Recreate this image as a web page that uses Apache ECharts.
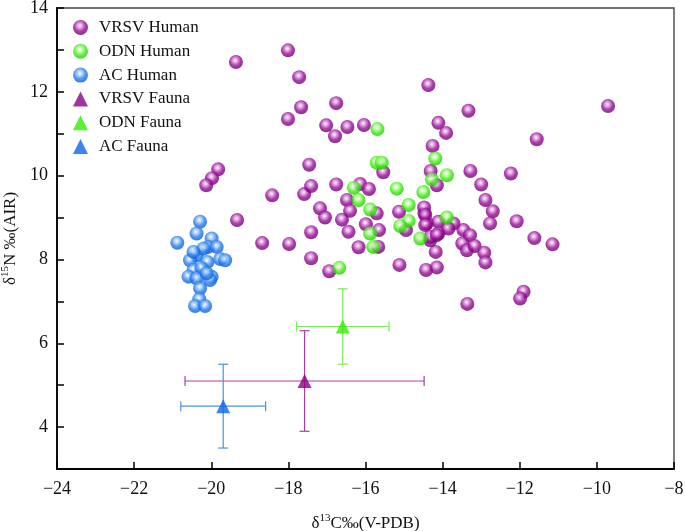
<!DOCTYPE html>
<html><head><meta charset="utf-8">
<script src="https://cdn.jsdelivr.net/npm/echarts@6/dist/echarts.min.js"></script>
<style>html,body{margin:0;padding:0;background:#fff}#c{width:685px;height:531px}</style>
</head><body><div id="c"></div>
<script>
// δ13C, δ15N values
const vrsvHuman = [
[-19.36,12.71],[-18.01,12.99],[-17.72,12.35],[-17.67,11.63],[-18.01,11.35],[-16.76,11.73],[-17.02,11.20],[-16.79,10.94],[-16.47,11.16],[-16.04,11.21],
[-14.37,12.16],[-17.46,10.26],[-15.54,10.08],[-14.11,11.26],[-13.91,11.02],[-14.26,10.71],[-14.31,10.11],[-19.82,10.15],[-19.98,9.94],[-20.13,9.77],
[-19.33,8.94],[-18.42,9.53],[-18.68,8.39],[-17.98,8.37],[-17.59,9.56],[-17.41,9.75],[-17.41,8.65],[-17.41,8.03],[-9.71,11.66],[-11.56,10.87],
[-13.33,11.55],[-13.28,10.11],[-12.23,10.05],[-13.0,9.79],[-12.89,9.42],[-12.70,9.15],[-12.77,8.86],[-12.08,8.91],[-11.62,8.51],[-11.15,8.36],
[-13.46,8.70],[-13.29,8.58],[-13.49,8.38],[-13.37,8.22],[-13.17,8.32],[-12.92,8.16],[-12.89,7.93],[-11.90,7.23],[-11.99,7.07],[-13.36,6.94],
[-14.18,8.18],[-14.43,7.75],[-14.15,7.81],[-14.47,9.10],[-14.41,8.86],[-14.11,8.90],[-14.11,8.62],[-13.72,8.86],[-14.32,8.46],[-13.85,8.74],
[-14.15,9.77],[-16.76,9.79],[-16.14,9.80],[-15.91,9.68],[-17.18,9.22],[-17.05,9.00],[-16.48,9.42],[-16.61,8.95],[-16.40,9.16],[-15.99,8.84],
[-15.71,9.10],[-15.65,8.70],[-16.44,8.66],[-16.18,8.29],[-15.67,8.30],[-16.94,7.72],[-15.12,7.87],[-15.13,9.14],[-14.95,8.70],[-14.48,9.24],
[-14.45,9.06],[-14.45,8.82],[-14.32,8.54],[-14.15,8.58]
];
const odnHuman = [
[-15.69,11.11],[-15.71,10.31],[-15.58,10.31],[-14.19,10.41],[-13.89,10.01],[-14.28,9.91],[-15.19,9.69],[-14.50,9.61],[-16.30,9.71],[-16.18,9.42],
[-15.88,9.19],[-14.88,9.30],[-14.88,8.92],[-15.10,8.80],[-13.89,9.00],[-15.88,8.62],[-15.80,8.30],[-14.58,8.50],[-16.68,7.80]
];
const acHuman = [
[-20.29,8.90],[-20.88,8.40],[-20.38,8.62],[-19.99,8.50],[-20.08,8.30],[-19.86,8.30],[-20.38,8.10],[-20.55,7.98],[-20.10,7.94],[-19.77,8.01],
[-19.64,7.98],[-20.46,7.75],[-20.25,7.79],[-20.59,7.59],[-20.38,7.55],[-19.99,7.59],[-20.03,7.51],[-20.29,7.31],[-20.31,7.05],[-20.42,6.89],
[-20.16,6.89],[-20.20,8.26],[-20.46,8.18],[-20.12,7.67]
];
// [mean δ13C, mean δ15N, sd δ13C, sd δ15N]
const vrsvFauna = [[-17.58,5.10,3.10,1.20]];
const odnFauna = [[-16.59,6.40,1.20,0.90]];
const acFauna = [[-19.69,4.50,1.10,1.00]];
const xTicks = {min:-24, max:-8, interval:2};
const yTicks = {min:3, max:14, interval:1};

function sphere(light, base, dark){
  return {type:'radial', x:0.45, y:0.38, r:0.62, colorStops:[
    {offset:0,color:'#ffffff'},{offset:0.22,color:light},{offset:0.6,color:base},{offset:1,color:dark}]};
}
function errSeries(data, color){
  return {type:'custom', silent:true, z:2, data:data,
    renderItem:function(params, api){
      const x=api.value(0), y=api.value(1), ex=api.value(2), ey=api.value(3);
      const l=api.coord([x-ex,y]), r=api.coord([x+ex,y]), t=api.coord([x,y+ey]), b=api.coord([x,y-ey]);
      const cap=5, st={stroke:color, lineWidth:1.2};
      return {type:'group', children:[
        {type:'line', shape:{x1:l[0],y1:l[1],x2:r[0],y2:r[1]}, style:st},
        {type:'line', shape:{x1:t[0],y1:t[1],x2:b[0],y2:b[1]}, style:st},
        {type:'line', shape:{x1:l[0],y1:l[1]-cap,x2:l[0],y2:l[1]+cap}, style:st},
        {type:'line', shape:{x1:r[0],y1:r[1]-cap,x2:r[0],y2:r[1]+cap}, style:st},
        {type:'line', shape:{x1:t[0]-cap,y1:t[1],x2:t[0]+cap,y2:t[1]}, style:st},
        {type:'line', shape:{x1:b[0]-cap,y1:b[1],x2:b[0]+cap,y2:b[1]}, style:st}
      ]};
    }};
}
const font = '"Liberation Serif","Times New Roman",serif';
const minus = v => String(v).replace('-', '\u2212');
const rich = {a:{fontFamily:font,fontSize:17,color:'#111',lineHeight:19,verticalAlign:'bottom'},
              s:{fontFamily:font,fontSize:11,color:'#111',lineHeight:19,verticalAlign:'top'}};
const chart = echarts.init(document.getElementById('c'));
chart.setOption({
  animation:false,
  textStyle:{fontFamily:font},
  grid:{left:57, right:11, top:8, bottom:62, show:true, borderColor:'#444', borderWidth:1.4,
    containLabel:false, outerBoundsMode:'none'},
  legend:{orient:'vertical', left:73, top:19, padding:0, itemWidth:15, itemHeight:15, itemGap:6.8,
    textStyle:{fontFamily:font, fontSize:17, color:'#111', padding:[0,0,0,6]},
    data:['VRSV Human','ODN Human','AC Human','VRSV Fauna','ODN Fauna','AC Fauna']},
  xAxis:{type:'value', min:xTicks.min, max:xTicks.max, interval:xTicks.interval,
    name:'{a|δ}{s|13}{a|C‰(V-PDB)}', nameLocation:'middle', nameGap:44,
    nameTextStyle:{rich:rich},
    splitLine:{show:false},
    axisLine:{onZero:false, lineStyle:{color:'#000', width:1.8}},
    axisTick:{inside:true, length:7, lineStyle:{color:'#000', width:1.5}},
    axisLabel:{fontFamily:font, fontSize:18, color:'#111', margin:11, formatter:minus}},
  yAxis:{type:'value', min:yTicks.min, max:yTicks.max, interval:yTicks.interval,
    name:'{a|δ}{s|15}{a|N ‰(AIR)}', nameLocation:'middle', nameGap:37,
    nameTextStyle:{rich:rich},
    splitLine:{show:false},
    axisLine:{onZero:false, lineStyle:{color:'#000', width:1.8}},
    axisTick:{inside:true, length:7, lineStyle:{color:'#000', width:1.5}},
    axisLabel:{fontFamily:font, fontSize:18, color:'#111', margin:9,
      formatter:function(v){return v%2===0 ? minus(v) : '';}}},
  series:[
    {name:'VRSV Human', type:'scatter', symbol:'circle', symbolSize:14, z:3, data:vrsvHuman,
      itemStyle:{color:sphere('#e39be3','#980f98','#6a006a')}},
    {name:'ODN Human', type:'scatter', symbol:'circle', symbolSize:14, z:4, data:odnHuman,
      itemStyle:{color:sphere('#c8ffb0','#44ee1a','#22c400')}},
    {name:'AC Human', type:'scatter', symbol:'circle', symbolSize:14, z:3, data:acHuman,
      itemStyle:{color:sphere('#b0d4ff','#2a7ef0','#0a5ad0')}},
    errSeries(vrsvFauna,'#b03ab0'),
    errSeries(odnFauna,'#77ee55'),
    errSeries(acFauna,'#4a8fe8'),
    {name:'VRSV Fauna', type:'scatter', symbol:'triangle', symbolSize:14, z:5, data:vrsvFauna,
      itemStyle:{color:'#880088'}},
    {name:'ODN Fauna', type:'scatter', symbol:'triangle', symbolSize:14, z:5, data:odnFauna,
      itemStyle:{color:'#33ee00'}},
    {name:'AC Fauna', type:'scatter', symbol:'triangle', symbolSize:14, z:5, data:acFauna,
      itemStyle:{color:'#0a66ee'}}
  ]
});
</script></body></html>
